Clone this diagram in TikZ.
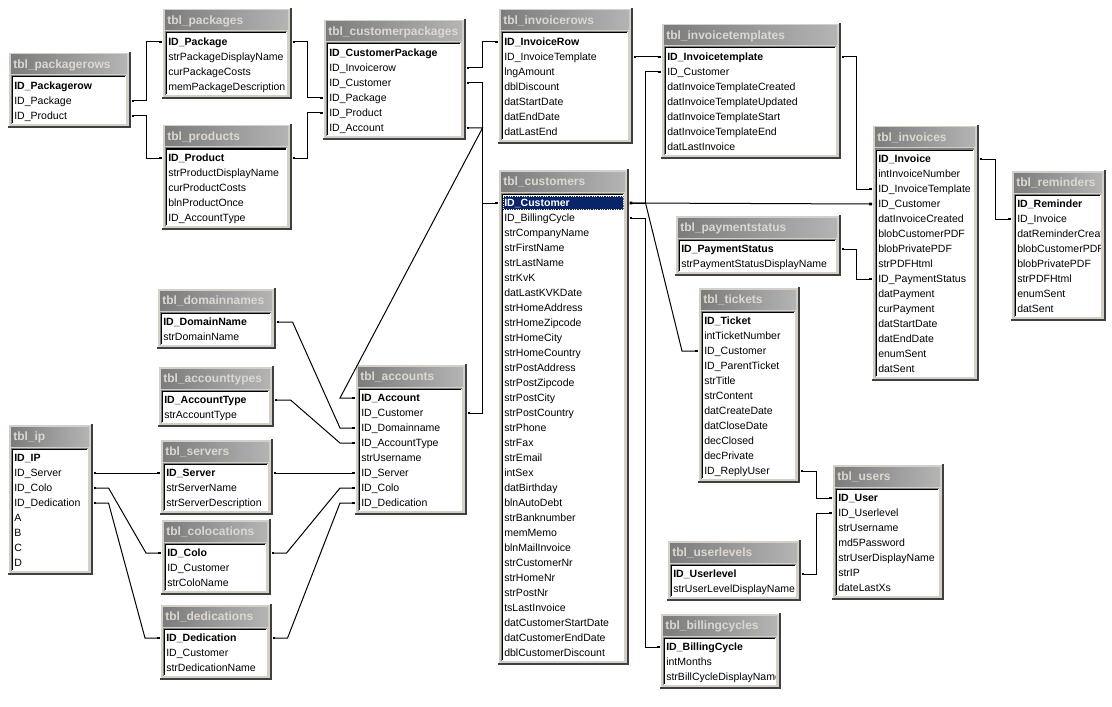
\documentclass[tikz,border=0pt]{standalone}
\usepackage{fontspec}
\setmainfont{Liberation Sans}
\usetikzlibrary{arrows.meta,calc}
\definecolor{framecol}{HTML}{D4D0C8}
\definecolor{titleL}{HTML}{7C7C7C}
\definecolor{titleR}{HTML}{B4B4B4}
\definecolor{titletxt}{HTML}{DCD8D0}
\definecolor{shadowcol}{HTML}{404040}
\definecolor{midgray}{HTML}{808080}
\definecolor{selblue}{HTML}{0A246A}
\tikzset{
  rowtext/.style={anchor=west, inner xsep=4.5pt, inner ysep=0pt, minimum height=11pt, align=left,
    text height=6.8pt, text depth=1pt, font=\fontsize{7.9}{9}\selectfont},
  keyrow/.style={font=\fontsize{7.9}{9}\selectfont\bfseries},
  selrow/.style={fill=selblue, text=white},
  titletext/.style={anchor=west, inner sep=0pt, text=titletxt, font=\fontsize{9}{10}\selectfont\bfseries},
  rel/.style={draw=black, line width=0.75pt, {Square[length=2.2pt,width=2.2pt]}-{Square[length=2.2pt,width=2.2pt]}},
}
% #1 key style, #2 name, #3 left, #4 right, #5 first row y, #6 rows, #7 title, #8 key, #9 other rows
\newcommand\dbtable[9][]{%
  \pgfmathsetmacro\tbT{#5-34}%
  \pgfmathsetmacro\tbB{#5+15*(#6-1)+12}%
  \pgfmathsetmacro\tbW{(#4-#3-12)*0.75}%
  \fill[framecol] (#3,\tbT) rectangle (#4,\tbB);
  \draw[white, line width=0.75pt] (#3+0.5,\tbB) -- (#3+0.5,\tbT+0.5) -- (#4,\tbT+0.5);
  \draw[shadowcol, line width=1.5pt] (#3,\tbB-1) -- (#4-1,\tbB-1) -- (#4-1,\tbT);
  \shade[left color=titleL, right color=titleR] (#3+3,\tbT+3) rectangle (#4-4,\tbT+22);
  \node[titletext] (#2) at (#3+5,#5-21) {#7};
  \fill[white] (#3+3,#5-10) rectangle (#4-5,\tbB-4);
  \draw[midgray, line width=0.75pt] (#3+3,\tbB-4) -- (#3+3,#5-10) -- (#4-5,#5-10);
  \draw[black, line width=0.75pt] (#3+4,\tbB-5) -- (#3+4,#5-9) -- (#4-6,#5-9);
  \begin{scope}
    \clip (#3+4.5,#5-8.5) rectangle (#4-5.5,\tbB-4.5);
    \node[rowtext, keyrow, #1, text width=\tbW pt] (#2-1) at (#3,#5) {#8};
    \foreach \txt [count=\i from 2] in {#9} {
      \node[rowtext, text width=\tbW pt] (#2-\i) at (#3,{#5+15*(\i-1)}) {\txt};
    }
  \end{scope}
}
\begin{document}
\begin{tikzpicture}[x=0.75pt, y=-0.75pt]
\useasboundingbox (0,0) rectangle (1112,706);
\fill[white] (0,0) rectangle (1112,706);

\dbtable{packagerows}{8}{131}{86}{3}{tbl\_packagerows}{ID\_Packagerow}{ID\_Package,ID\_Product}
\dbtable{packages}{162}{292}{42}{4}{tbl\_packages}{ID\_Package}{strPackageDisplayName,curPackageCosts,memPackageDescription}
\dbtable{products}{162}{292}{158}{5}{tbl\_products}{ID\_Product}{strProductDisplayName,curProductCosts,blnProductOnce,ID\_AccountType}
\dbtable{customerpackages}{323}{466}{53}{6}{tbl\_customerpackages}{ID\_CustomerPackage}{ID\_Invoicerow,ID\_Customer,ID\_Package,ID\_Product,ID\_Account}
\dbtable{invoicerows}{498}{633}{42}{7}{tbl\_invoicerows}{ID\_InvoiceRow}{ID\_InvoiceTemplate,lngAmount,dblDiscount,datStartDate,datEndDate,datLastEnd}
\dbtable{invoicetemplates}{661}{841}{57}{7}{tbl\_invoicetemplates}{ID\_Invoicetemplate}{ID\_Customer,datInvoiceTemplateCreated,datInvoiceTemplateUpdated,datInvoiceTemplateStart,datInvoiceTemplateEnd,datLastInvoice}
\dbtable[selrow]{customers}{498}{629}{203}{31}{tbl\_customers}{ID\_Customer}{ID\_BillingCycle,strCompanyName,strFirstName,strLastName,strKvK,datLastKVKDate,strHomeAddress,strHomeZipcode,strHomeCity,strHomeCountry,strPostAddress,strPostZipcode,strPostCity,strPostCountry,strPhone,strFax,strEmail,intSex,datBirthday,blnAutoDebt,strBanknumber,memMemo,blnMailInvoice,strCustomerNr,strHomeNr,strPostNr,tsLastInvoice,datCustomerStartDate,datCustomerEndDate,dblCustomerDiscount}
\draw[white!75!yellow, densely dotted, line width=0.75pt] ($(customers-1.west)+(5,-6.5)$) rectangle ($(customers-1.east)+(-6,6.5)$);
\dbtable{invoices}{872}{979}{159}{15}{tbl\_invoices}{ID\_Invoice}{intInvoiceNumber,ID\_InvoiceTemplate,ID\_Customer,datInvoiceCreated,blobCustomerPDF,blobPrivatePDF,strPDFHtml,ID\_PaymentStatus,datPayment,curPayment,datStartDate,datEndDate,enumSent,datSent}
\dbtable{reminders}{1011}{1106}{204}{8}{tbl\_reminders}{ID\_Reminder}{ID\_Invoice,datReminderCreated,blobCustomerPDF,blobPrivatePDF,strPDFHtml,enumSent,datSent}
\dbtable{paymentstatus}{675}{841}{249}{2}{tbl\_paymentstatus}{ID\_PaymentStatus}{strPaymentStatusDisplayName}
\dbtable{tickets}{698}{800}{321}{11}{tbl\_tickets}{ID\_Ticket}{intTicketNumber,ID\_Customer,ID\_ParentTicket,strTitle,strContent,datCreateDate,datCloseDate,decClosed,decPrivate,ID\_ReplyUser}
\dbtable{users}{832}{944}{498}{7}{tbl\_users}{ID\_User}{ID\_Userlevel,strUsername,md5Password,strUserDisplayName,strIP,dateLastXs}
\dbtable{userlevels}{667}{801}{574}{2}{tbl\_userlevels}{ID\_Userlevel}{strUserLevelDisplayName}
\dbtable{billingcycles}{660}{781}{647}{3}{tbl\_billingcycles}{ID\_BillingCycle}{intMonths,strBillCycleDisplayName}
\dbtable{domainnames}{157}{276}{322}{2}{tbl\_domainnames}{ID\_DomainName}{strDomainName}
\dbtable{accounttypes}{158}{274}{400}{2}{tbl\_accounttypes}{ID\_AccountType}{strAccountType}
\dbtable{ip}{8}{93}{458}{8}{tbl\_ip}{ID\_IP}{ID\_Server,ID\_Colo,ID\_Dedication,A,B,C,D}
\dbtable{servers}{160}{273}{473}{3}{tbl\_servers}{ID\_Server}{strServerName,strServerDescription}
\dbtable{colocations}{161}{271}{553}{3}{tbl\_colocations}{ID\_Colo}{ID\_Customer,strColoName}
\dbtable{dedications}{160}{272}{638}{3}{tbl\_dedications}{ID\_Dedication}{ID\_Customer,strDedicationName}
\dbtable{accounts}{355}{467}{398}{8}{tbl\_accounts}{ID\_Account}{ID\_Customer,ID\_Domainname,ID\_AccountType,strUsername,ID\_Server,ID\_Colo,ID\_Dedication}

% relationships
\draw[rel] (packagerows-2.east) -- ++(15,0) |- (packages-1.west);
\draw[rel] (packagerows-3.east) -- ++(15,0) |- (products-1.west);
\draw[rel] (packages-1.east) -- ++(15,0) |- (customerpackages-4.west);
\draw[rel] (products-1.east) -- ++(15,0) |- (customerpackages-5.west);
\draw[rel] (customerpackages-2.east) -- ++(16,0) |- (invoicerows-1.west);
\draw[rel] (customerpackages-3.east) -- ++(16,0) |- (customers-1.west);
\draw[rel] (customerpackages-6.east) -- ++(16,0) -- ($(accounts-1.west)+(-15,0)$) -- (accounts-1.west);
\draw[rel] (accounts-2.east) -- ++(15,0) |- (customers-1.west);
\draw[rel] (invoicerows-2.east) -- (invoicetemplates-1.west);
\draw[rel] (customers-1.east) -- ++(16,0) |- (invoicetemplates-2.west);
\draw[rel] (customers-2.east) -- ++(16,0) |- (billingcycles-1.west);
\draw[rel] (customers-1.east) -- (invoices-4.west);
\draw[rel] (customers-1.east) -- ++(16,0) -- ($(tickets-3.west)+(-16,0)$) -- (tickets-3.west);
\draw[rel] (invoicetemplates-1.east) -- ++(15,0) |- (invoices-3.west);
\draw[rel] (paymentstatus-1.east) -- ++(15,0) |- (invoices-9.west);
\draw[rel] (invoices-1.east) -- ++(16,0) |- (reminders-2.west);
\draw[rel] (tickets-11.east) -- ++(16,0) |- (users-1.west);
\draw[rel] (userlevels-1.east) -- ++(15,0) |- (users-2.west);
\draw[rel] (domainnames-1.east) -- ++(16,0) -- ($(accounts-3.west)+(-15,0)$) -- (accounts-3.west);
\draw[rel] (accounttypes-1.east) -- ++(16,0) -- ($(accounts-4.west)+(-15,0)$) -- (accounts-4.west);
\draw[rel] (ip-2.east) -- (servers-1.west);
\draw[rel] (servers-1.east) -- (accounts-6.west);
\draw[rel] (ip-3.east) -- ++(15,0) -- ($(colocations-1.west)+(-15,0)$) -- (colocations-1.west);
\draw[rel] (colocations-1.east) -- ++(15,0) -- ($(accounts-7.west)+(-15,0)$) -- (accounts-7.west);
\draw[rel] (ip-4.east) -- ++(15,0) -- ($(dedications-1.west)+(-15,0)$) -- (dedications-1.west);
\draw[rel] (dedications-1.east) -- ++(15,0) -- ($(accounts-8.west)+(-15,0)$) -- (accounts-8.west);
\end{tikzpicture}
\end{document}
